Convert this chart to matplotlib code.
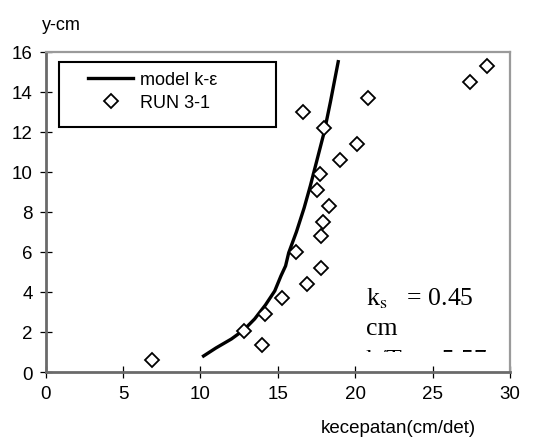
import matplotlib
matplotlib.use("Agg")
import matplotlib.pyplot as plt
from matplotlib.patches import Rectangle

# measured velocity profile (RUN 3-1)
run_v = [6.9, 12.8, 14.0, 14.2, 15.3, 16.9, 17.8, 16.2, 17.8, 17.9, 18.3, 17.5, 17.7, 19.0, 20.1, 18.0, 16.6, 20.8, 27.4, 28.5]
run_y = [0.6, 2.05, 1.35, 2.9, 3.7, 4.4, 5.2, 6.0, 6.8, 7.5, 8.3, 9.1, 9.9, 10.6, 11.4, 12.2, 13.0, 13.7, 14.5, 15.3]

# model k-epsilon curve
model_v = [10.2, 11.0, 12.0, 12.8, 13.5, 14.2, 14.8, 15.2, 15.5, 15.7, 16.2, 16.7, 17.1, 17.5, 18.0, 18.4, 18.9]
model_y = [0.8, 1.2, 1.65, 2.1, 2.65, 3.35, 4.05, 4.8, 5.3, 5.95, 7.0, 8.2, 9.3, 10.5, 12.0, 13.5, 15.5]

xticks = [0, 5, 10, 15, 20, 25, 30]
yticks = [0, 2, 4, 6, 8, 10, 12, 14, 16]

plt.rcParams['font.family'] = ['Liberation Sans', 'DejaVu Sans']
plt.rcParams['mathtext.fontset'] = 'stix'

fig = plt.figure(figsize=(5.37, 4.39), dpi=100)
ax = fig.add_axes([0.0851, 0.1503, 0.8646, 0.7297])

ax.plot(model_v, model_y, color='black', lw=2.4, label='model k-ε', zorder=3)
ax.plot(run_v, run_y, ls='none', marker='D', markersize=7.3, mfc='white', mec='black',
        mew=1.3, label='RUN 3-1', zorder=4)

ax.set_xlim(0, 30)
ax.set_ylim(0, 16)
ax.set_xticks(xticks)
ax.set_yticks(yticks)
ax.tick_params(direction='inout', length=9, width=0.9, labelsize=13.5, color='black', pad=5)

for s in ['left', 'bottom']:
    ax.spines[s].set_color('#6a6a6a')
    ax.spines[s].set_linewidth(2.0)
for s in ['top', 'right']:
    ax.spines[s].set_color('#9a9a9a')
    ax.spines[s].set_linewidth(1.6)

# legend box drawn by hand, entries without frame
ax.add_patch(Rectangle((0.0286, 0.765), 0.467, 0.202, transform=ax.transAxes,
                       facecolor='white', edgecolor='black', lw=1.5, zorder=5))
leg = ax.legend(loc='upper left', bbox_to_anchor=(0.091, 0.94), borderaxespad=0,
                borderpad=0, frameon=False, fontsize=13, handlelength=2.5,
                handletextpad=0.4, labelspacing=0.35)
leg.set_zorder(6)

# annotation (third line is cut off in the original)
ax.text(20.7, 3.39, r'k$_\mathrm{s}$   = 0.45', family='Liberation Serif', fontsize=18.5)
ax.text(20.7, 1.89, 'cm', family='Liberation Serif', fontsize=18.5)
t = ax.text(20.7, 0.28, 'k/T   = 5.57', family='Liberation Serif', fontsize=18.5, clip_on=True)
t.set_clip_path(Rectangle((0, 1.0), 30, 15, transform=ax.transData))

fig.text(0.115, 0.943, 'y-cm', ha='center', va='center', fontsize=13)
fig.text(0.741, 0.025, 'kecepatan(cm/det)', ha='center', va='center', fontsize=13.5)

fig.savefig('out.png', dpi=100)
